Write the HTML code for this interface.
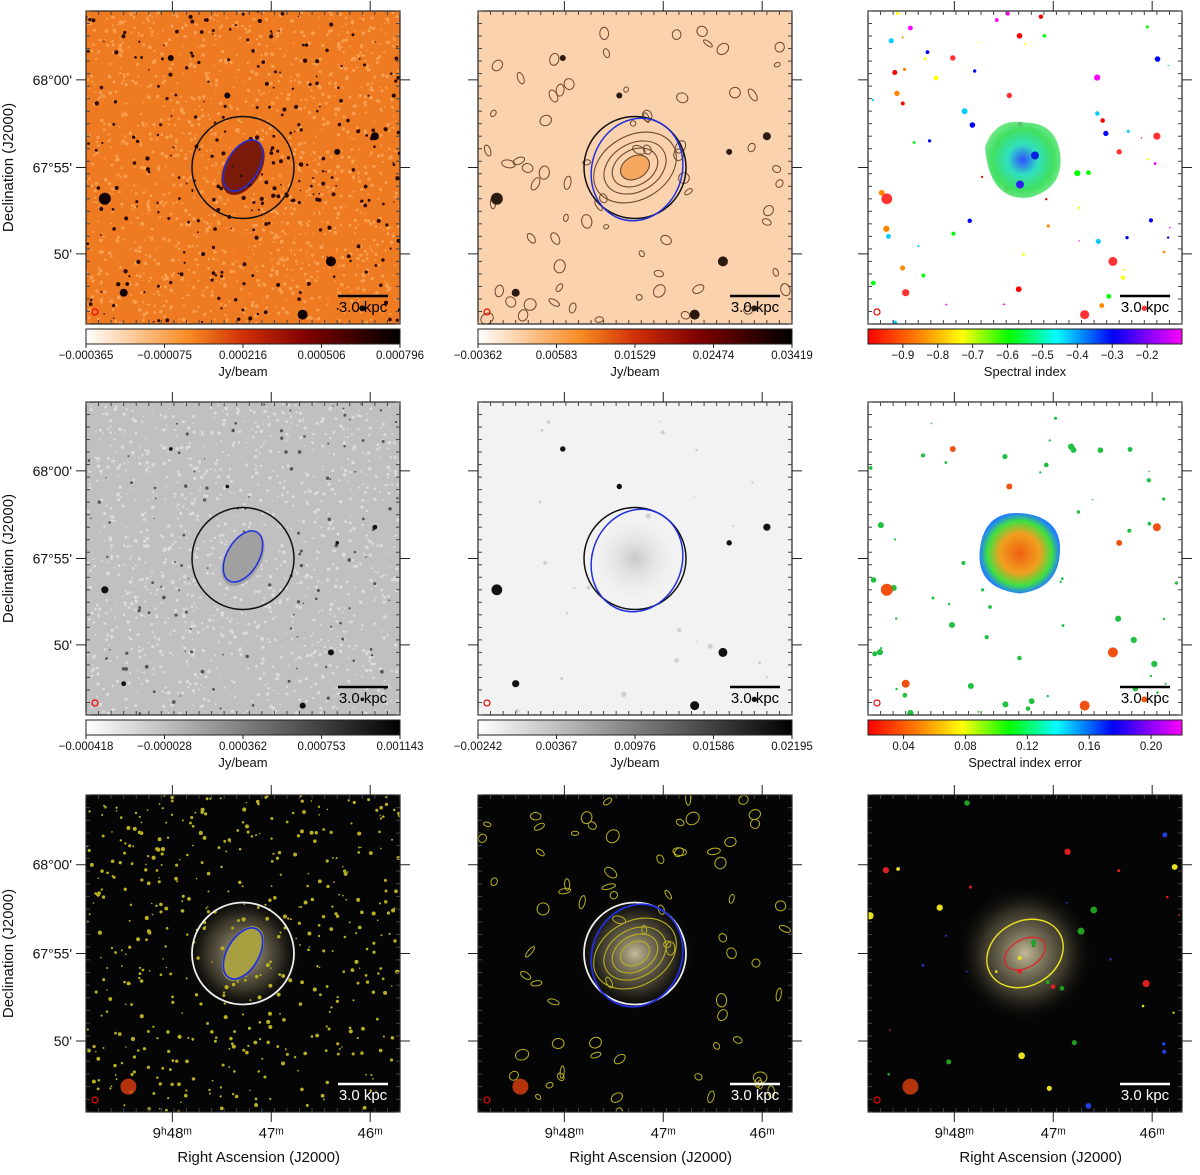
<!DOCTYPE html>
<html><head><meta charset="utf-8"><style>
body{margin:0;background:#fff}
svg text{font-family:"Liberation Sans",sans-serif}
</style></head><body>
<svg id="fig" width="1200" height="1170" viewBox="0 0 1200 1170" xmlns="http://www.w3.org/2000/svg">
<defs>
<linearGradient id="gHot"><stop offset="0" stop-color="#fff"/><stop offset="0.33" stop-color="#f78a20"/><stop offset="0.5" stop-color="#d03008"/><stop offset="0.7" stop-color="#800000"/><stop offset="1" stop-color="#000"/></linearGradient>
<linearGradient id="gGray"><stop offset="0" stop-color="#fff"/><stop offset="1" stop-color="#000"/></linearGradient>
<linearGradient id="gRain"><stop offset="0" stop-color="#f00"/><stop offset="0.17" stop-color="#f80"/><stop offset="0.3" stop-color="#ff0"/><stop offset="0.45" stop-color="#0f0"/><stop offset="0.6" stop-color="#0ff"/><stop offset="0.78" stop-color="#00f"/><stop offset="1" stop-color="#f0f"/></linearGradient>
<radialGradient id="glow"><stop offset="0" stop-color="#d8cfa8" stop-opacity="0.9"/><stop offset="0.6" stop-color="#8a8060" stop-opacity="0.4"/><stop offset="1" stop-color="#000" stop-opacity="0"/></radialGradient>
<radialGradient id="glowG"><stop offset="0" stop-color="#c8c8c8"/><stop offset="1" stop-color="#f2f2f2" stop-opacity="0"/></radialGradient>
<radialGradient id="blobS"><stop offset="0" stop-color="#3050ff"/><stop offset="0.4" stop-color="#30e0c0"/><stop offset="0.8" stop-color="#40e060"/><stop offset="1" stop-color="#40e060" stop-opacity="0.8"/></radialGradient>
<radialGradient id="blobE"><stop offset="0" stop-color="#f06010"/><stop offset="0.5" stop-color="#f0a020"/><stop offset="0.8" stop-color="#40e040"/><stop offset="1" stop-color="#2080ff"/></radialGradient>
</defs>
</svg>
<script>
const cols=[86,478,868], rows=[11,402,795], W=314, H=313;
const cb1Ticks=["−0.000365","−0.000075","0.000216","0.000506","0.000796"];
const cb2Ticks=["−0.00362","0.00583","0.01529","0.02474","0.03419"];
const cb3Vals=[-0.9,-0.8,-0.7,-0.6,-0.5,-0.4,-0.3,-0.2];
const cb4Ticks=["−0.000418","−0.000028","0.000362","0.000753","0.001143"];
const cb5Ticks=["−0.00242","0.00367","0.00976","0.01586","0.02195"];
const cb6Vals=[0.04,0.08,0.12,0.16,0.20];
const decTicks=["68°00'","67°55'","50'"], decFrac=[0.22,0.5,0.776];
const raTicks=["9ʰ48ᵐ","47ᵐ","46ᵐ"], raFrac=[0.275,0.59,0.905];
const srcX=[0.06,0.78,0.92,0.69,0.8,0.27,0.45,0.12,0.88];
const srcY=[0.60,0.80,0.40,0.97,0.45,0.15,0.27,0.9,0.95];
const srcR=[6,5,4,5,3,3,3,4,3];
const NS='http://www.w3.org/2000/svg', svg=document.getElementById('fig');
function el(t,a,p){const e=document.createElementNS(NS,t);for(const k in a)e.setAttribute(k,a[k]);(p||svg).appendChild(e);return e;}
let seed=7;function rnd(){seed=(seed*16807)%2147483647;return seed/2147483647;}
function txt(x,y,s,size,anchor,p,extra,col){const t=el('text',Object.assign({x,y,'font-size':size,'text-anchor':anchor||'middle',style:'fill:'+(col||'#111')},extra||{}),p);t.textContent=s;return t;}
function panel(c,r,opt){
  const x0=cols[c],y0=rows[r],h=r==2?317:H;
  const g=el('g',{});
  
  
  const cp='cp'+c+r;const clip=el('clipPath',{id:cp},svg.querySelector('defs'));el('rect',{x:x0,y:y0,width:W,height:h},clip);
  const im=el('g',{'clip-path':`url(#${cp})`},g);
  el('rect',{x:x0,y:y0,width:W,height:h,fill:opt.bg},im);
  const cx=x0+W/2,cy=y0+h/2;
  opt.draw(im,x0,y0,h,cx,cy);
  el('rect',{x:x0,y:y0,width:W,height:h,fill:'none',stroke:'#222','stroke-width':1.2},g);
  decFrac.forEach((f,i)=>{const y=y0+f*h;el('line',{x1:x0-10,y1:y,x2:x0,y2:y,stroke:'#222'},g);el('line',{x1:x0+W,y1:y,x2:x0+W+10,y2:y,stroke:'#222'},g);
    if(c==0){const t=txt(x0-14,y+5,decTicks[i],14,'end',g);}});
  raFrac.forEach((f,i)=>{const x=x0+f*W;el('line',{x1:x,y1:y0-10,x2:x,y2:y0,stroke:'#222'},g);
    if(r==2){el('line',{x1:x,y1:y0+h,x2:x,y2:y0+h+10,stroke:'#222'},g);const t=txt(x,y0+h+26,raTicks[i],15,'middle',g);}});
  for(let k=0;k<26;k++){const y=y0+k*h/25;el('line',{x1:x0,y1:y,x2:x0+4,y2:y,stroke:'#444'},g);el('line',{x1:x0+W-4,y1:y,x2:x0+W,y2:y,stroke:'#444'},g);
    const x=x0+k*W/25;el('line',{x1:x,y1:y0,x2:x,y2:y0+4,stroke:'#444'},g);el('line',{x1:x,y1:y0+h-4,x2:x,y2:y0+h,stroke:'#444'},g);}
  const sc=opt.sc||'#000';
  el('line',{x1:x0+252,y1:y0+h-28,x2:x0+302,y2:y0+h-28,stroke:sc,'stroke-width':2.5},g);
  const t=txt(x0+277,y0+h-12,'3.0 kpc',15,'middle',g,{},sc);
  el('circle',{cx:x0+9,cy:y0+h-12,r:3,fill:'none',stroke:'#e00','stroke-width':1.2},g);
  if(c==0){const yl=txt(0,0,'Declination (J2000)',15,'middle',g,{transform:`translate(13,${y0+h/2}) rotate(-90)`});}
  if(r==2){const xl=txt(x0+W*0.55,y0+h+50,'Right Ascension (J2000)',15,'middle',g);}
}
function colorbar(c,r,grad,ticks,fr,title){
  const x0=cols[c],y=rows[r]+H+5;
  const g=el('g',{});
  
  
  el('rect',{x:x0,y,width:W,height:15,fill:`url(#${grad})`,stroke:'#222'},g);
  ticks.forEach((s,i)=>{const x=x0+fr(i)*W;el('line',{x1:x,y1:y+15,x2:x,y2:y+19,stroke:'#222'},g);txt(x,y+30,s,11.5,'middle',g);});
  txt(x0+W/2,y+47,title,13,'middle',g);
}
function scatter(im,x0,y0,h,n,fill,rmax){for(let i=0;i<n;i++){const x=x0+rnd()*W,y=y0+rnd()*h,r=0.7+rnd()*rmax;el('circle',{cx:x,cy:y,r,fill:typeof fill=='function'?fill():fill},im);}}
function bright(im,x0,y0,h,fill,scale){srcX.forEach((sx,i)=>el('circle',{cx:x0+sx*W,cy:y0+srcY[i]*h,r:srcR[i]*(scale||1),fill},im));}
function ell(im,cx,cy,rx,ry,rot,stroke,sw,fill,op){el('ellipse',{cx,cy,rx,ry,transform:`rotate(${rot} ${cx} ${cy})`,fill:fill||'none',stroke,'stroke-width':sw||1.5,opacity:op||1},im);}
panel(0,0,{bg:'#ee7a22',draw:(im,x0,y0,h,cx,cy)=>{
  scatter(im,x0,y0,h,1400,'#f9a050',1.2);scatter(im,x0,y0,h,260,'#2a0800',1.5);
  ell(im,cx,cy,18,30,30,'none',0,'#7a1a08');scatter(im,cx-40,cy-40,80,50,'#300600',1.6);
  bright(im,x0,y0,h,'#100');
  el('circle',{cx,cy,r:51,fill:'none',stroke:'#111','stroke-width':1.5},im);ell(im,cx,cy-2,16,28,30,'#2030e0',1.5);}});
panel(1,0,{bg:'#fbd2ae',draw:(im,x0,y0,h,cx,cy)=>{
  for(let i=0;i<70;i++){const x=x0+rnd()*W,y=y0+rnd()*h;ell(im,x,y,2+rnd()*5,2+rnd()*4,rnd()*180,'#6a4a30',1);}
  [40,30,22,14].forEach((r,i)=>ell(im,cx,cy,r*1.1,r*0.8,-30,'#6a4a30',1.1,i==3?'#f6a860':'none'));
  bright(im,x0,y0,h,'#2a1a10');
  el('circle',{cx,cy,r:51,fill:'none',stroke:'#111','stroke-width':1.5},im);ell(im,cx+2,cy+2,45,52,20,'#2030e0',1.5);}});
panel(2,0,{bg:'#fff',draw:(im,x0,y0,h,cx,cy)=>{
  const cs=['#f00','#0f0','#ff0','#0cf','#f80','#00f','#f0f'];let k=0;
  scatter(im,x0,y0,h,70,()=>cs[(k++)%7],2.5);
  el('path',{d:`M${cx-40},${cy-20} q10,-30 40,-25 q30,0 35,30 q5,35 -30,45 q-40,5 -45,-50z`,fill:'url(#blobS)'},im);
  el('circle',{cx:cx+10,cy:cy-12,r:4,fill:'#0020e0'},im);el('circle',{cx:cx-5,cy:cy+17,r:4,fill:'#3020f0'},im);
  bright(im,x0,y0,h,'#f33',0.9);}});
colorbar(0,0,'gHot',cb1Ticks,i=>i/4,'Jy/beam');
colorbar(1,0,'gHot',cb2Ticks,i=>i/4,'Jy/beam');
colorbar(2,0,'gRain',cb3Vals.map(v=>'−'+Math.abs(v).toFixed(1)),i=>(cb3Vals[i]+1.0)/0.9,'Spectral index');
panel(0,1,{bg:'#c0c0c0',draw:(im,x0,y0,h,cx,cy)=>{
  scatter(im,x0,y0,h,1200,'#dcdcdc',1.1);scatter(im,x0,y0,h,120,'#555',1.2);
  ell(im,cx,cy,18,30,30,'none',0,'#a0a0a0');bright(im,x0,y0,h,'#111',0.6);
  el('circle',{cx,cy,r:51,fill:'none',stroke:'#111','stroke-width':1.5},im);ell(im,cx,cy-2,16,28,30,'#2030e0',1.5);}});
panel(1,1,{bg:'#f2f2f2',draw:(im,x0,y0,h,cx,cy)=>{
  el('circle',{cx,cy,r:45,fill:'url(#glowG)'},im);bright(im,x0,y0,h,'#111',0.9);scatter(im,x0,y0,h,25,'#d0d0d0',2);
  el('circle',{cx,cy,r:51,fill:'none',stroke:'#111','stroke-width':1.5},im);ell(im,cx+2,cy+2,45,52,20,'#2030e0',1.5);}});
panel(2,1,{bg:'#fff',draw:(im,x0,y0,h,cx,cy)=>{
  scatter(im,x0,y0,h,60,'#20c040',2.5);
  el('path',{d:`M${cx-45},${cy-10} q5,-40 45,-35 q35,5 35,35 q0,40 -40,45 q-45,-5 -40,-45z`,fill:'url(#blobE)'},im);
  bright(im,x0,y0,h,'#f05010',1);}});
colorbar(0,1,'gGray',cb4Ticks,i=>i/4,'Jy/beam');
colorbar(1,1,'gGray',cb5Ticks,i=>i/4,'Jy/beam');
colorbar(2,1,'gRain',cb6Vals.map(v=>v.toFixed(2)),i=>(cb6Vals[i]-0.017)/0.203,'Spectral index error');
const glow=(im,cx,cy)=>el('circle',{cx,cy,r:60,fill:'url(#glow)'},im);
panel(0,2,{bg:'#050505',sc:'#fff',draw:(im,x0,y0,h,cx,cy)=>{
  glow(im,cx,cy);scatter(im,x0,y0,h,500,'#b8b020',1.4);ell(im,cx,cy,17,30,30,'none',0,'#a8a040',1.5,0.8);
  el('circle',{cx:x0+0.135*W,cy:y0+0.92*h,r:8,fill:'#e04010',opacity:0.8},im);
  el('circle',{cx,cy,r:51,fill:'none',stroke:'#eee','stroke-width':1.8},im);ell(im,cx,cy,16,28,30,'#2030e0',1.8);}});
panel(1,2,{bg:'#050505',sc:'#fff',draw:(im,x0,y0,h,cx,cy)=>{
  glow(im,cx,cy);for(let i=0;i<70;i++){ell(im,x0+rnd()*W,y0+rnd()*h,2+rnd()*5,2+rnd()*4,rnd()*180,'#b8b020',1);}
  [40,30,22,14].forEach(r=>ell(im,cx,cy,r*1.1,r*0.8,-30,'#b8b020',1.1));
  el('circle',{cx:x0+0.135*W,cy:y0+0.92*h,r:8,fill:'#e04010',opacity:0.8},im);
  el('circle',{cx,cy,r:51,fill:'none',stroke:'#eee','stroke-width':1.8},im);ell(im,cx+2,cy+2,45,52,20,'#2030e0',1.8);}});
panel(2,2,{bg:'#050505',sc:'#fff',draw:(im,x0,y0,h,cx,cy)=>{
  el('circle',{cx,cy,r:70,fill:'url(#glow)'},im);
  ell(im,cx,cy,40,32,-30,'#e8e020',1.5);ell(im,cx,cy,22,14,-30,'#e02020',1.2);
  const cs=['#20a020','#2040e0','#e8e020','#e02020'];let k=0;scatter(im,x0,y0,h,40,()=>cs[(k++)%4],3);
  el('circle',{cx:x0+0.135*W,cy:y0+0.92*h,r:8,fill:'#e04010',opacity:0.8},im);}});
</script>
</body></html>
